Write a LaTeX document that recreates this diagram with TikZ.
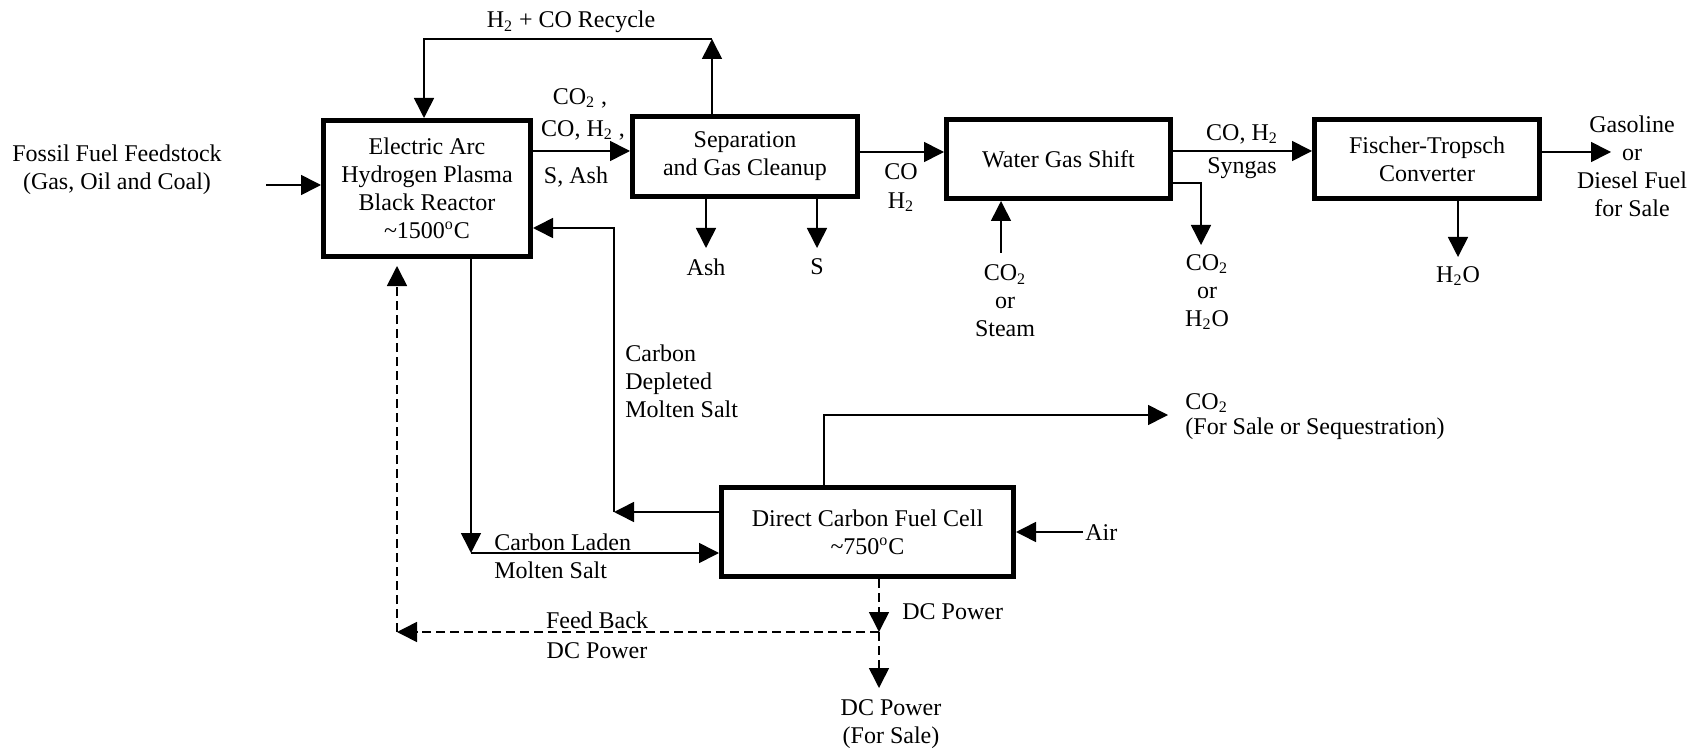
\documentclass[tikz,border=0pt]{standalone}
\usepackage{fontspec}
\setmainfont{Liberation Serif}
\usetikzlibrary{arrows.meta,calc}
\begin{document}
\begin{tikzpicture}[x=0.5pt,y=-0.5pt,
  every node/.style={font=\fontsize{12}{14}\selectfont, inner sep=0pt},
  box/.style={draw, line width=2.5pt, align=center},
  lbl/.style={align=center},
  lbll/.style={align=left, anchor=west},
  arr/.style={line width=0.8pt, -{Triangle[length=10pt,width=10pt]}},
  dsh/.style={dash pattern=on 4.5pt off 2.5pt}]
\useasboundingbox (0,0) rectangle (1707,754);

% boxes
\node[box, minimum width=103.5pt, minimum height=68pt] (reactor) at (427,188.5)
  {Electric Arc\\Hydrogen Plasma\\Black Reactor\\\textasciitilde1500\textsuperscript{o}C};
\node[box, minimum width=112.5pt, minimum height=40pt] (sep) at (745,156.5)
  {Separation\\and Gas Cleanup};
\node[box, minimum width=112pt, minimum height=39.5pt] (wgs) at (1058.5,159)
  {Water Gas Shift};
\node[box, minimum width=112.5pt, minimum height=39.5pt] (ft) at (1427,159)
  {Fischer-Tropsch\\Converter};
\node[box, minimum width=146pt, minimum height=44.5pt] (dcfc) at (867.5,532)
  {Direct Carbon Fuel Cell\\\textasciitilde750\textsuperscript{o}C};

% labels
\node[lbl] (feed) at (117,170) {Fossil Fuel Feedstock\\(Gas, Oil and Coal)};
\node[lbl] (recl) at (571,22) {H\textsubscript{2} + CO Recycle};
\node[lbl] (rs1) at (580,98) {CO\textsubscript{2} ,};
\node[lbl] (rs2) at (583,130) {CO, H\textsubscript{2} ,};
\node[lbl] (rs3) at (576,177) {S, Ash};
\node[lbl] (sw1) at (901,172) {CO};
\node[lbl] (sw2) at (901,202) {H\textsubscript{2}};
\node[lbl] (wf1) at (1242,134) {CO, H\textsubscript{2}};
\node[lbl] (wf2) at (1242,168) {Syngas};
\node[lbl] (outl) at (1632,166) {Gasoline\\or\\Diesel Fuel\\for Sale};
\node[lbl] (ashl) at (706,267) {Ash};
\node[lbl] (sl) at (817,267) {S};
\node[lbl] (steaml) at (1005,301) {CO\textsubscript{2}\\or\\Steam};
\node[lbl] (sidel) at (1207,292) {CO\textsubscript{2}\\or\\H\textsubscript{2}O};
\node[lbl] (h2ol) at (1458,276) {H\textsubscript{2}O};
\node[lbll] (depl) at (625,381) {Carbon\\Depleted\\Molten Salt};
\node[lbll] (ladl) at (494,556) {Carbon Laden\\Molten Salt};
\node[anchor=base west] (co2l) at (1185,409) {CO\textsubscript{2}};
\node[anchor=base west] (co2s) at (1185,434) {(For Sale or Sequestration)};
\node[lbll] (airl) at (1085,533) {Air};
\node[lbll] (dcpl) at (902,612) {DC Power};
\node[lbl] (fbl1) at (597,620) {Feed Back};
\node[lbl] (fbl2) at (597,651) {DC Power};
\node[lbl] (dcsl) at (891,724) {DC Power\\(For Sale)};

% bend / end coordinates
\coordinate (feedin) at (266,185);
\coordinate (rsy) at (560,151);
\coordinate (swy) at (900,152);
\coordinate (wfy) at (1240,151);
\coordinate (ftout) at (1611,152);
\coordinate (rc1) at (712,39);
\coordinate (rc2) at (424,39);
\coordinate (ashend) at (706,248);
\coordinate (send) at (817,248);
\coordinate (steamin) at (1001,253);
\coordinate (side1) at (1201,183);
\coordinate (side2) at (1201,245);
\coordinate (h2oend) at (1458,257);
\coordinate (ld1) at (471,553);
\coordinate (dp1) at (614,512);
\coordinate (dp2) at (614,228);
\coordinate (co1) at (824,415);
\coordinate (co2) at (1168,415);
\coordinate (airin) at (1083,532);
\coordinate (dc1) at (879,632);
\coordinate (dc2) at (879,688);
\coordinate (fb1) at (397,632);
\coordinate (fb2) at (397,266);

% connectors
\draw[arr] (feedin) -- (feedin -| reactor.west);
\draw[arr] (reactor.east |- rsy) -- (sep.west |- rsy);
\draw[arr] (sep.east |- swy) -- (wgs.west |- swy);
\draw[arr] (wgs.east |- wfy) -- (ft.west |- wfy);
\draw[arr] (ft.east |- ftout) -- (ftout);
\draw[arr] (sep.north -| rc1) -- (rc1);
\draw[arr] (rc1) -- (rc2) -- (reactor.north -| rc2);
\draw[arr] (sep.south -| ashend) -- (ashend);
\draw[arr] (sep.south -| send) -- (send);
\draw[arr] (steamin) -- (wgs.south -| steamin);
\draw[arr] (wgs.east |- side1) -- (side1) -- (side2);
\draw[arr] (ft.south -| h2oend) -- (h2oend);
\draw[arr] (reactor.south -| ld1) -- (ld1);
\draw[arr] (ld1) -- (dcfc.west |- ld1);
\draw[arr] (dcfc.west |- dp1) -- (dp1);
\draw[arr] (dp1) -- (dp2) -- (reactor.east |- dp2);
\draw[arr] (dcfc.north -| co1) -- (co1) -- (co2);
\draw[arr] (airin) -- (dcfc.east |- airin);
\draw[arr,dsh] (dcfc.south -| dc1) -- (dc1);
\draw[arr,dsh] (dc1) -- (dc2);
\draw[arr,dsh] (dc1) -- (fb1);
\draw[arr,dsh] (fb1) -- (fb2);
\end{tikzpicture}
\end{document}
